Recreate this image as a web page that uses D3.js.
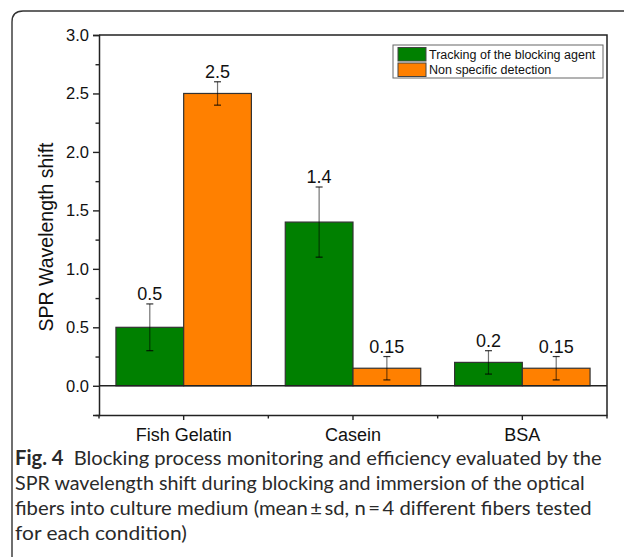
<!DOCTYPE html>
<html>
<head>
<meta charset="utf-8">
<script src="https://cdn.jsdelivr.net/npm/d3@7"></script>
<style>
  html, body { margin: 0; padding: 0; background: #fff; }
  svg { display: block; }
</style>
</head>
<body>
<svg id="chart" width="624" height="557"></svg>
<script>
// ---- data ----
const categories = ["Fish Gelatin", "Casein", "BSA"];
const seriesNames = ["Tracking of the blocking agent", "Non specific detection"];
const trackingMeans = [0.5, 1.4, 0.2];
const trackingSD = [0.2, 0.3, 0.1];
const trackingLabels = ["0.5", "1.4", "0.2"];
const nonSpecificMeans = [2.5, 0.15, 0.15];
const nonSpecificSD = [0.1, 0.1, 0.1];
const nonSpecificLabels = ["2.5", "0.15", "0.15"];
const yMajorTicks = [0.0, 0.5, 1.0, 1.5, 2.0, 2.5, 3.0];
const yMinorTicks = [-0.25, 0.25, 0.75, 1.25, 1.75, 2.25, 2.75];
const yTitle = "SPR Wavelength shift";
const captionBold = "Fig. 4";
const captionLines = [
  "Blocking process monitoring and efficiency evaluated by the",
  "SPR wavelength shift during blocking and immersion of the optical",
  "fibers into culture medium (mean\u2009\u00b1\u2009sd, n\u2009=\u20094 different fibers tested",
  "for each condition)"
];

const colors = { [seriesNames[0]]: "#008000", [seriesNames[1]]: "#ff8000" };

const rows = [];
categories.forEach((c, i) => {
  rows.push({ cat: c, series: seriesNames[0], mean: trackingMeans[i], sd: trackingSD[i], label: trackingLabels[i] });
  rows.push({ cat: c, series: seriesNames[1], mean: nonSpecificMeans[i], sd: nonSpecificSD[i], label: nonSpecificLabels[i] });
});

// ---- layout ----
const svg = d3.select("#chart");
const L = 99, R = 607, T = 35, B = 415;
const font = "Arial, 'Liberation Sans', Helvetica, sans-serif";
const axisColor = "#222";

// outer figure frame (rounded top-left corner)
svg.append("path")
  .attr("d", "M12,560 L12,22 Q12,11 23,11 L630,11")
  .attr("fill", "none").attr("stroke", "#333").attr("stroke-width", 1.4);

const x0 = d3.scaleBand().domain(categories).range([L, R]).padding(0);
const bw = x0.bandwidth();
const x1 = d3.scaleBand().domain(seriesNames).range([bw * 0.1, bw * 0.9]).padding(0);
const y = d3.scaleLinear().domain([-0.25, 3.0]).range([B, T]);

// bars
svg.append("g").selectAll("rect").data(rows).join("rect")
  .attr("x", d => x0(d.cat) + x1(d.series))
  .attr("y", d => y(Math.max(0, d.mean)))
  .attr("width", x1.bandwidth())
  .attr("height", d => Math.abs(y(d.mean) - y(0)))
  .attr("fill", d => colors[d.series])
  .attr("stroke", "#333").attr("stroke-width", 1.2);

// error bars
const eb = svg.append("g").attr("stroke", "#000").attr("stroke-opacity", 0.55).attr("stroke-width", 1.2);
rows.forEach(d => {
  const cx = x0(d.cat) + x1(d.series) + x1.bandwidth() / 2;
  const yt = y(d.mean + d.sd), yb = y(d.mean - d.sd);
  eb.append("line").attr("x1", cx).attr("x2", cx).attr("y1", yt).attr("y2", yb);
  eb.append("line").attr("x1", cx - 3.5).attr("x2", cx + 3.5).attr("y1", yt).attr("y2", yt).attr("stroke-opacity", 0.8);
  eb.append("line").attr("x1", cx - 3.5).attr("x2", cx + 3.5).attr("y1", yb).attr("y2", yb).attr("stroke-opacity", 0.8);
});

// value labels
svg.append("g").selectAll("text").data(rows).join("text")
  .attr("x", d => x0(d.cat) + x1(d.series) + x1.bandwidth() / 2)
  .attr("y", d => y(d.mean + d.sd) - 4)
  .attr("text-anchor", "middle")
  .attr("font-family", font).attr("font-size", 18).attr("fill", "#111")
  .text(d => d.label);

// zero line
svg.append("line").attr("x1", L).attr("x2", R).attr("y1", y(0)).attr("y2", y(0))
  .attr("stroke", axisColor).attr("stroke-width", 1.4);

// frame top & right
svg.append("path").attr("d", `M${L},${T} L${R},${T} L${R},${B}`)
  .attr("fill", "none").attr("stroke", axisColor).attr("stroke-width", 1.5);

// y axis
const yAxis = svg.append("g").attr("transform", `translate(${L},0)`)
  .call(d3.axisLeft(y).tickValues(yMajorTicks).tickSize(6).tickPadding(4).tickFormat(d3.format(".1f")));
yAxis.select(".domain").attr("stroke", axisColor).attr("stroke-width", 1.5);
yAxis.selectAll(".tick line").attr("stroke", axisColor).attr("stroke-width", 1.4);
yAxis.selectAll("text").attr("font-family", font).attr("font-size", 16.5).attr("fill", "#111");
const yMinor = svg.append("g").attr("transform", `translate(${L},0)`)
  .call(d3.axisLeft(y).tickValues(yMinorTicks).tickSize(3.5).tickFormat(""));
yMinor.select(".domain").remove();
yMinor.selectAll(".tick line").attr("stroke", axisColor).attr("stroke-width", 1.4);

// x axis
const xAxis = svg.append("g").attr("transform", `translate(0,${B})`)
  .call(d3.axisBottom(x0).tickSize(5).tickPadding(8).tickSizeOuter(0));
xAxis.select(".domain").attr("stroke", axisColor).attr("stroke-width", 1.5);
xAxis.selectAll(".tick line").attr("stroke", axisColor).attr("stroke-width", 1.4);
xAxis.selectAll("text").attr("font-family", font).attr("font-size", 18).attr("fill", "#111");
// minor x ticks at band boundaries
const bounds = categories.map(c => x0(c)).concat([x0(categories[categories.length - 1]) + bw]);
svg.append("g").selectAll("line").data(bounds).join("line")
  .attr("x1", d => d).attr("x2", d => d).attr("y1", B).attr("y2", B + 3.5)
  .attr("stroke", axisColor).attr("stroke-width", 1.4);

// y title
svg.append("text")
  .attr("transform", `translate(53,${(T + B) / 2 + 12}) rotate(-90)`)
  .attr("text-anchor", "middle")
  .attr("font-family", font).attr("font-size", 19.5).attr("fill", "#111")
  .text(yTitle);

// legend
const lg = svg.append("g");
lg.append("rect").attr("x", 393).attr("y", 45).attr("width", 210).attr("height", 33)
  .attr("fill", "#fff").attr("stroke", "#666").attr("stroke-width", 1);
seriesNames.forEach((s, i) => {
  lg.append("rect").attr("x", 398).attr("y", 47.5 + i * 15.5).attr("width", 28).attr("height", 13.5)
    .attr("fill", colors[s]).attr("stroke", "#444").attr("stroke-width", 1);
  lg.append("text").attr("x", 429).attr("y", 58.5 + i * 15)
    .attr("font-family", font).attr("font-size", 12.5).attr("fill", "#111").text(s);
});

// caption
const capFont = "Lato, 'Open Sans', sans-serif";
const capG = svg.append("g");
const baselines = [465, 490, 515, 540];
const lineEnds = [602, 585, 592, 187];
const capLeft = 15;
captionLines.forEach((line, i) => {
  const t = capG.append("text").attr("font-family", capFont).attr("font-size", 20).attr("fill", "#2a2a2a");
  if (i === 0) {
    t.append("tspan").attr("font-weight", "bold").text(captionBold);
    t.append("tspan").text("\u2002" + line);
  } else {
    t.text(line);
  }
  const w = t.node().getComputedTextLength();
  const sx = (lineEnds[i] - capLeft) / w;
  t.attr("transform", `translate(${capLeft},${baselines[i]}) scale(${sx},1)`);
});
</script>
</body>
</html>
